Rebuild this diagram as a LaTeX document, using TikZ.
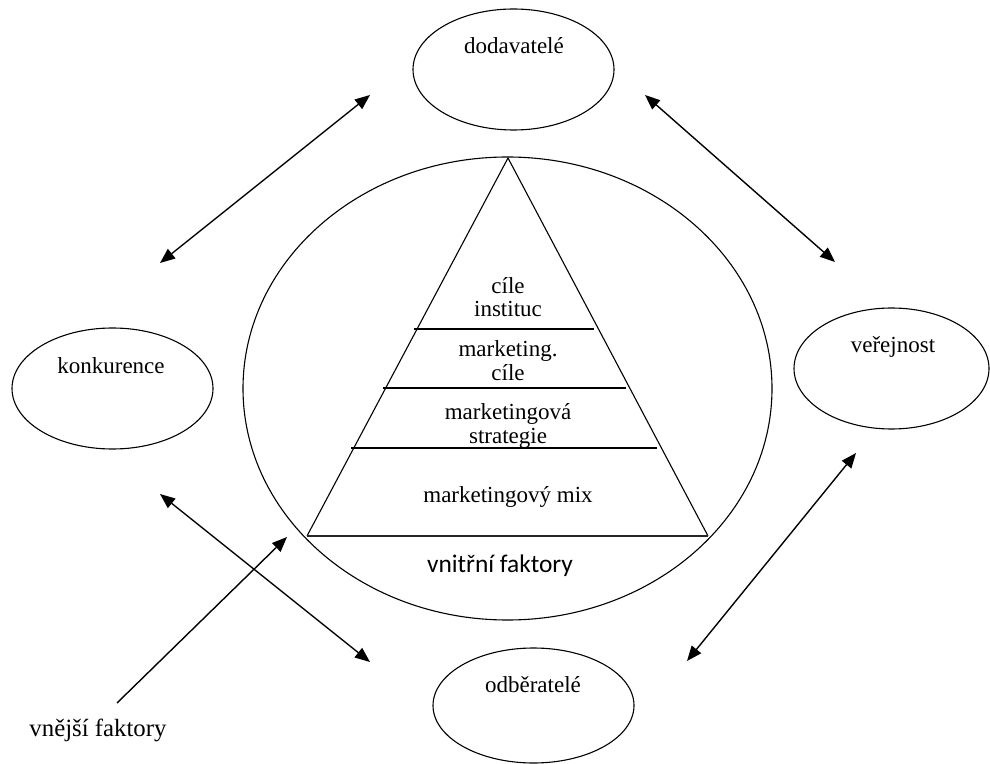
\documentclass[tikz,border=0pt]{standalone}
\usepackage{fontspec}
\setmainfont{Liberation Serif}
\newfontfamily\sansfaktory{Carlito}
\usetikzlibrary{positioning}
\usetikzlibrary{shapes.geometric}
\usetikzlibrary{arrows.meta}
\usetikzlibrary{calc}

\begin{document}
\begin{tikzpicture}[x = 0.5pt, y = -0.5pt,
		oval/.style = {draw = black, ellipse, line width = 0.55pt, inner sep = 0pt},
		popis/.style = {font = \fontsize{11.5}{11.8}\selectfont, align = center, inner sep = 0pt},
		hrot/.tip = {Triangle[length = 7.5pt, width = 6pt]},
		obousmer/.style = {black, line width = 0.7pt, hrot-hrot},
		jednosmer/.style = {black, line width = 0.7pt, -hrot}]
					\useasboundingbox (0, 0) rectangle (990, 764);
					\node [oval, minimum width = 100.5pt, minimum height = 60.5pt] (dodavatele) at (513.5, 69.5) {};
					\node [oval, minimum width = 100.5pt, minimum height = 60.5pt] (konkurence) at (112.5, 388.5) {};
					\node [oval, minimum width = 97.5pt, minimum height = 60.5pt] (verejnost) at (891.5, 368.5) {};
					\node [oval, minimum width = 100.5pt, minimum height = 57.5pt] (odberatele) at (533.5, 705.5) {};
					\node [oval, minimum width = 264.5pt, minimum height = 231.5pt] (okoli) at (507.5, 388.5) {};
					\node [popis, anchor = base] (dodavatele-txt) at (514, 54) {dodavatelé};
					\node [popis, anchor = base] (konkurence-txt) at (111, 373) {konkurence};
					\node [popis, anchor = base] (verejnost-txt) at (893, 353) {veřejnost};
					\node [popis, anchor = base] (odberatele-txt) at (533, 692) {odběratelé};
					\coordinate (vrchol) at (508, 158);
					\coordinate (levy) at (307, 536);
					\coordinate (pravy) at (708, 536);
					\draw [black, line width = 0.55pt] (levy) -- (vrchol) -- (pravy);
					\draw [black!85, line width = 0.9pt] (levy) -- (pravy);
					\foreach \t in {0.452, 0.608, 0.767}
						\draw [black, line width = 0.7pt] ($(vrchol)!\t!(levy) + (-3, 0)$) -- ($(vrchol)!\t!(pravy) + (-4, 0)$);
					\node [popis] (cile) at (508, 297) {cíle\\instituc};
					\node [popis] (mcile) at (508, 360.5) {marketing.\\cíle};
					\node [popis] (strategie) at (508, 426) {marketingová\\strategie};
					\node [popis] (mix) at (508, 497) {marketingový mix};
					\node [popis, font = \sansfaktory\fontsize{12.7}{14}\selectfont] (vnitrni) at (500, 565.5) {vnitřní faktory};
					\node [popis, font = \fontsize{12.4}{14}\selectfont] (vnejsi) at (98, 730) {vnější faktory};
					\coordinate (kd-a) at (160, 263);
					\coordinate (kd-b) at (370, 95);
					\coordinate (dv-a) at (645, 95);
					\coordinate (dv-b) at (835, 262);
					\coordinate (vo-a) at (856, 453);
					\coordinate (vo-b) at (687, 661);
					\coordinate (ko-a) at (160, 494);
					\coordinate (ko-b) at (370, 662);
					\coordinate (vnejsi-start) at (117, 703);
					\coordinate (vnejsi-cil) at (287, 537);
					\draw [obousmer] (kd-a) -- (kd-b);
					\draw [obousmer] (dv-a) -- (dv-b);
					\draw [obousmer] (vo-a) -- (vo-b);
					\draw [obousmer] (ko-a) -- (ko-b);
					\draw [jednosmer] (vnejsi-start) -- (vnejsi-cil);
				\end{tikzpicture}
\end{document}
